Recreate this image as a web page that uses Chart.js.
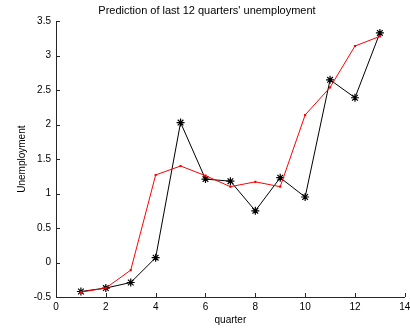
<!DOCTYPE html>
<html>
<head>
<meta charset="utf-8">
<script src="https://cdn.jsdelivr.net/npm/chart.js@4"></script>
<style>
  html, body { margin: 0; padding: 0; background: #fff; }
  #wrap { width: 410px; height: 329px; }
</style>
</head>
<body>
<div id="wrap"><canvas id="unemployment"></canvas></div>
<script>
const quarters = [1, 2, 3, 4, 5, 6, 7, 8, 9, 10, 11, 12, 13]
const predicted = [-0.43, -0.37, -0.11, 1.27, 1.40, 1.26, 1.10, 1.17, 1.10, 2.14, 2.54, 3.14, 3.28]
const actual = [-0.42, -0.37, -0.29, 0.07, 2.03, 1.21, 1.18, 0.75, 1.23, 0.95, 2.65, 2.39, 3.33]
const xTicks = [0, 2, 4, 6, 8, 10, 12, 14]
const yTicks = [-0.5, 0, 0.5, 1, 1.5, 2, 2.5, 3, 3.5]

const axisColor = '#262626'
const font = { family: 'Arial, "Liberation Sans", sans-serif', size: 10 }

// MATLAB style ticks pointing into the plot
const inwardTicks = {
  id: 'inwardTicks',
  afterDraw(chart) {
    const { ctx, chartArea, scales } = chart
    ctx.save()
    ctx.strokeStyle = axisColor
    ctx.lineWidth = 1
    ctx.beginPath()
    xTicks.forEach(v => {
      const px = Math.round(scales.x.getPixelForValue(v)) + 0.5
      ctx.moveTo(px, chartArea.bottom)
      ctx.lineTo(px, chartArea.bottom - 4)
    })
    yTicks.forEach(v => {
      const py = Math.round(scales.y.getPixelForValue(v)) + 0.5
      ctx.moveTo(chartArea.left, py)
      ctx.lineTo(chartArea.left + 4, py)
    })
    ctx.stroke()
    ctx.restore()
  }
}

new Chart(document.getElementById('unemployment'), {
  type: 'line',
  data: {
    datasets: [
      {
        label: 'Predicted',
        data: quarters.map((q, i) => ({ x: q, y: predicted[i] })),
        borderColor: '#ff0000',
        backgroundColor: '#ff0000',
        borderWidth: 1,
        pointStyle: 'rect',
        pointRadius: 1.5,
        pointBorderWidth: 0,
        tension: 0
      },
      {
        label: 'Actual',
        data: quarters.map((q, i) => ({ x: q, y: actual[i] })),
        borderColor: '#000000',
        backgroundColor: '#000000',
        borderWidth: 1,
        pointStyle: 'star',
        pointRadius: 4,
        pointBorderWidth: 1.2,
        tension: 0
      }
    ]
  },
  options: {
    responsive: true,
    maintainAspectRatio: false,
    animation: false,
    layout: { padding: { right: -4, left: 0, bottom: 0, top: 0 } },
    plugins: {
      legend: { display: false },
      tooltip: { enabled: false },
      title: {
        display: true,
        text: "Prediction of last 12 quarters' unemployment",
        color: '#000',
        font: { family: font.family, size: 11, weight: 'normal' },
        padding: { top: 4, bottom: 4 }
      }
    },
    scales: {
      x: {
        type: 'linear',
        min: 0,
        max: 14,
        afterBuildTicks: s => { s.ticks = xTicks.map(v => ({ value: v })) },
        afterFit: s => { s.height = 32; s.paddingRight = 0; s.paddingLeft = 0 },
        grid: { display: true, drawOnChartArea: false, drawTicks: false },
        border: { display: true, color: axisColor, width: 1 },
        ticks: { color: '#000', font: font, padding: 4, maxRotation: 0, autoSkip: false },
        title: { display: true, text: 'quarter', color: '#000', font: font, padding: { top: 0, bottom: 3 } }
      },
      y: {
        min: -0.5,
        max: 3.5,
        afterBuildTicks: s => { s.ticks = yTicks.map(v => ({ value: v })) },
        afterFit: s => { s.width = 56 },
        grid: { display: true, drawOnChartArea: false, drawTicks: false },
        border: { display: true, color: axisColor, width: 1 },
        ticks: { color: '#000', font: font, padding: 5, autoSkip: false, callback: v => String(v) },
        title: { display: true, text: 'Unemployment', color: '#000', font: font, padding: { top: 16, bottom: 0 } }
      }
    }
  },
  plugins: [inwardTicks]
})
</script>
</body>
</html>
